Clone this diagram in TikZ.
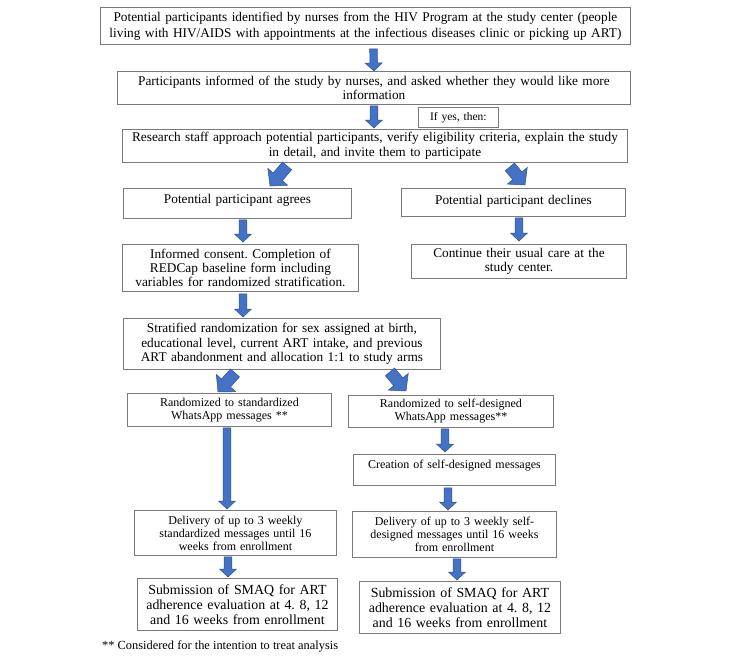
\documentclass[tikz,border=0pt]{standalone}
\usepackage{fontspec}
\setmainfont{Liberation Serif}
\usetikzlibrary{calc}
\definecolor{arrfill}{HTML}{4472C4}
\definecolor{arrline}{HTML}{2F528F}
\definecolor{boxline}{HTML}{7A7A7A}
\frenchspacing
\tikzset{
  box/.style={draw=boxline, line width=0.9pt, fill=white, align=center, inner xsep=2pt, inner ysep=1pt, anchor=north west, font=\fontsize{13.3}{14.5}\selectfont},
  smallbox/.style={box, font=\fontsize{12}{13}\selectfont},
  bigbox/.style={box, font=\fontsize{13.9}{15}\selectfont},
  blockarrow/.style={fill=arrfill, draw=arrline, line width=0.5pt, line join=miter},
}
\newcommand\barrow[5]{%
  \path[blockarrow] let \p1=(#1), \p2=(#2), \n1={atan2(\y2-\y1,\x2-\x1)}, \n2={veclen(\x2-\x1,\y2-\y1)} in
   {[shift={(\p1)}, rotate=\n1] (0pt,#3pt) -- ({(\n2-#5)*1pt},#3pt) -- ({(\n2-#5)*1pt},#4pt) -- ({\n2*1pt},0pt) -- ({(\n2-#5)*1pt},-#4pt) -- ({(\n2-#5)*1pt},-#3pt) -- (0pt,-#3pt) -- cycle};
}
\newcommand\varrow[2]{\barrow{#1}{#2}{3.8}{8.5}{8}}
\newcommand\darrow[2]{\barrow{#1}{#2}{6}{13}{12}}
\begin{document}
\begin{tikzpicture}[x=1pt,y=-1pt]
\useasboundingbox (0,0) rectangle (733,656);
\fill[white] (0,0) rectangle (733,656);

\node[box, minimum width=530, minimum height=37, text width=526, font=\fontsize{13.3}{16}\selectfont] (b1) at (100,7)
  {Potential participants identified by nurses from the HIV Program at the study center (people\\ living with HIV/AIDS with appointments at the infectious diseases clinic or picking up ART)};
\node[box, minimum width=513, minimum height=33, text width=509] (b2) at (117,71)
  {Participants informed of the study by nurses, and asked whether they would like more\\ information};
\node[box, line width=0.7pt, minimum width=80, minimum height=20, text width=76, font=\fontsize{11.5}{13}\selectfont] (yes) at (418,107)
  {If yes, then:};
\node[box, minimum width=505, minimum height=33, text width=501] (b3) at (122,129)
  {Research staff approach potential participants, verify eligibility criteria, explain the study\\ in detail, and invite them to participate};
\node[box, minimum width=228, minimum height=30, text width=224, text depth=10pt] (b4) at (123,188)
  {Potential participant agrees};
\node[box, minimum width=224, minimum height=28, text width=220, text depth=5pt] (b5) at (401,188)
  {Potential participant declines};
\node[box, minimum width=236, minimum height=47, text width=232, font=\fontsize{13.3}{13.8}\selectfont] (b6) at (122,244)
  {Informed consent. Completion of\\ REDCap baseline form including\\ variables for randomized stratification.};
\node[box, minimum width=215, minimum height=34, text width=211] (b7) at (411,244)
  {Continue their usual care at the\\ study center.};
\node[box, minimum width=317, minimum height=51, text width=313] (b8) at (123,318)
  {Stratified randomization for sex assigned at birth,\\ educational level, current ART intake, and previous\\ ART abandonment and allocation 1:1 to study arms};
\node[smallbox, minimum width=204, minimum height=33, text width=200] (b9) at (127,393)
  {Randomized to standardized\\ WhatsApp messages **};
\node[smallbox, minimum width=205, minimum height=32, text width=201] (b10) at (348,395)
  {Randomized to self-designed\\ WhatsApp messages**};
\node[smallbox, minimum width=202, minimum height=31, text width=198, text depth=12pt] (b11) at (353,454)
  {Creation of self-designed messages};
\node[smallbox, minimum width=202, minimum height=45, text width=198] (b12) at (134,510)
  {Delivery of up to 3 weekly\\ standardized messages until 16\\ weeks from enrollment};
\node[smallbox, minimum width=204, minimum height=46, text width=200] (b13) at (352,511)
  {Delivery of up to 3 weekly self-\\ designed messages until 16 weeks\\ from enrollment};
\node[bigbox, minimum width=200, minimum height=52, text width=196] (b14) at (137,578)
  {Submission of SMAQ for ART\\ adherence evaluation at 4. 8, 12\\ and 16 weeks from enrollment};
\node[bigbox, minimum width=201, minimum height=52, text width=197] (b15) at (359,581)
  {Submission of SMAQ for ART\\ adherence evaluation at 4. 8, 12\\ and 16 weeks from enrollment};
\node[anchor=west, inner sep=0pt, font=\fontsize{12.4}{14}\selectfont] (foot) at (102,646)
  {** Considered for the intention to treat analysis};

% block arrows
\varrow{$(b1.south)+(8,4)$}{$(b2.north)+(0,0)$}
\varrow{$(b2.south)+(0,1)$}{$(b3.north)+(-1,-1)$}
\darrow{$(b3.south west)+(165,3)$}{$(b4.north west)+(147,-2)$}
\darrow{$(b3.south east)+(-118,4)$}{$(b5.north west)+(124,-3)$}
\varrow{$(b4.south west)+(120,1)$}{$(b6.north west)+(121,-2)$}
\varrow{$(b5.south west)+(118,1)$}{$(b7.north west)+(108,-3)$}
\varrow{$(b6.south west)+(121,2)$}{$(b8.north west)+(120,-1)$}
\darrow{$(b8.south west)+(112,3)$}{$(b9.north west)+(91,-1)$}
\darrow{$(b8.south west)+(267,2)$}{$(b10.north west)+(58,-4)$}
\varrow{$(b9.south west)+(100,1)$}{$(b12.north west)+(93,-1)$}
\varrow{$(b10.south west)+(97,1)$}{$(b11.north west)+(92,-2)$}
\varrow{$(b11.south west)+(95,2)$}{$(b13.north west)+(96,-1)$}
\varrow{$(b12.south west)+(94,1)$}{$(b14.north west)+(91,-1)$}
\varrow{$(b13.south west)+(105,1)$}{$(b15.north west)+(98,-1)$}
\end{tikzpicture}
\end{document}
